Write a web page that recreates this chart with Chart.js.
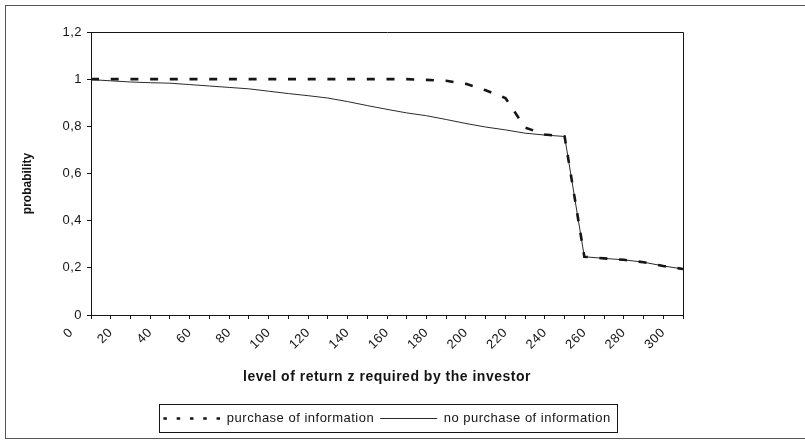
<!DOCTYPE html>
<html>
<head>
<meta charset="utf-8">
<script src="https://cdn.jsdelivr.net/npm/chart.js@4.4.1/dist/chart.umd.min.js"></script>
<style>
  html, body { margin: 0; padding: 0; background: #fff; overflow: hidden; }
  #wrap { position: relative; width: 805px; height: 440px; }
  #frame { position: absolute; left: 5px; top: 5px; width: 830px; height: 434px; border: 1px solid #555; box-sizing: border-box; pointer-events: none; }
  canvas { position: absolute; left: 0; top: 0; }
</style>
</head>
<body>
<div id="wrap">
  <canvas id="chart" width="805" height="440"></canvas>
  <div id="frame"></div>
</div>
<script>
// 投資人要求報酬 z 與達成機率
const returnLevels = [10, 20, 30, 40, 50, 60, 70, 80, 90, 100, 110, 120, 130, 140, 150, 160,
  170, 180, 190, 200, 210, 220, 230, 240, 250, 260, 270, 280, 290, 300, 310];
const purchaseInfo = [1, 1, 1, 1, 1, 1, 1, 1, 1, 1, 1, 1, 1, 1, 1, 1,
  1, 0.997, 0.993, 0.98, 0.953, 0.92, 0.795, 0.765, 0.757, 0.247, 0.24, 0.234, 0.224, 0.208, 0.195];
const noPurchaseInfo = [0.998, 0.993, 0.988, 0.985, 0.983, 0.977, 0.971, 0.965, 0.959, 0.949, 0.939,
  0.93, 0.92, 0.905, 0.888, 0.872, 0.857, 0.845, 0.829, 0.812, 0.797, 0.785, 0.771, 0.763, 0.757,
  0.247, 0.24, 0.234, 0.224, 0.208, 0.195];
const xTickLabels = ["0", "20", "40", "60", "80", "100", "120", "140", "160", "180", "200",
  "220", "240", "260", "280", "300"];
const yTickLabels = ["0", "0,2", "0,4", "0,6", "0,8", "1", "1,2"];

const ink = "#141414";
const family = "'Liberation Sans', Arial, sans-serif";
const font = { family, size: 13 };

// 掃描圖的字較寬：用 letterSpacing 模擬（縱向標題除外）
const spacing = {
  id: "spacing",
  beforeLayout(chart) { chart.ctx.letterSpacing = "0.5px"; },
  beforeDraw(chart) { chart.ctx.letterSpacing = "0.5px"; },
  afterLayout(chart) {
    const y = chart.scales.y;
    if (y && !y._patched) {
      const orig = y.drawTitle;
      y.drawTitle = function () {
        const c = this.ctx;
        c.save();
        c.letterSpacing = "0px";
        c.translate(0, 10);
        orig.apply(this, arguments);
        c.restore();
      };
      y._patched = true;
    }
    // 圖例置中於繪圖區下方
    const lg = chart.legend, a = chart.chartArea;
    lg.left = a.left; lg.right = a.right;
  },
};

// 繪圖區外框 + 圖例外框
const frames = {
  id: "frames",
  afterDraw(chart) {
    const { ctx, chartArea: a } = chart;
    ctx.save();
    ctx.strokeStyle = ink;
    ctx.lineWidth = 1;
    ctx.setLineDash([]);
    const l = Math.round(a.left) + 0.5, t = Math.round(a.top) + 0.5;
    const r = Math.round(a.right) + 0.5, b = Math.round(a.bottom) + 0.5;
    ctx.beginPath();
    ctx.moveTo(l, t); ctx.lineTo(r, t); ctx.lineTo(r, b);
    ctx.stroke();

    const hb = chart.legend.legendHitBoxes;
    if (hb && hb.length) {
      const f = hb[0], last = hb[hb.length - 1];
      const x0 = Math.round(f.left - 4) + 0.5, x1 = Math.round(last.left + last.width + 6) + 0.5;
      const y0 = Math.round(f.top - 8) + 0.5, y1 = Math.round(f.top + f.height + 7) + 0.5;
      ctx.strokeRect(x0, y0, x1 - x0, y1 - y0);
    }
    ctx.restore();
  },
};

new Chart(document.getElementById("chart"), {
  type: "line",
  data: {
    datasets: [
      {
        label: "purchase of information",
        data: returnLevels.map((x, i) => ({ x, y: purchaseInfo[i] })),
        borderColor: "#151515", borderWidth: 2.6, borderDash: [8, 11.7],
        pointRadius: 0, tension: 0, fill: false,
      },
      {
        label: "no purchase of information",
        data: returnLevels.map((x, i) => ({ x, y: noPurchaseInfo[i] })),
        borderColor: "#2a2a2a", borderWidth: 1,
        pointRadius: 0, tension: 0, fill: false,
      },
    ],
  },
  options: {
    responsive: false, animation: false, devicePixelRatio: 1,
    layout: { padding: { left: 5, top: 32, right: 122, bottom: 5 } },
    plugins: {
      tooltip: { enabled: false },
      legend: {
        position: "bottom",
        labels: {
          usePointStyle: true, pointStyleWidth: 57, padding: 6, color: ink, font,
          generateLabels: (chart) => chart.data.datasets.map((ds, i) => ({
            text: ds.label, datasetIndex: i, pointStyle: "line",
            strokeStyle: ds.borderColor, fillStyle: ds.borderColor, fontColor: ink,
            lineWidth: i === 0 ? 2.6 : 1, lineDash: i === 0 ? [3.5, 9.8] : [], hidden: false,
          })),
        },
      },
    },
    scales: {
      x: {
        type: "linear", min: 10, max: 310,
        afterBuildTicks(axis) {
          axis.ticks = [0, ...returnLevels].map((v) => ({ value: v }));
        },
        afterFit(axis) { axis.height = 91; },
        ticks: {
          autoSkip: false, minRotation: 45, maxRotation: 45, padding: 6, color: ink, font,
          callback: (v) => (xTickLabels.includes(String(v)) ? String(v) : ""),
        },
        grid: {
          drawOnChartArea: false, drawTicks: true, tickLength: 4,
          tickColor: (c) => (c.tick && c.tick.value < returnLevels[0] ? "rgba(0,0,0,0)" : ink),
        },
        border: { color: ink, width: 1 },
        title: {
          display: true, text: "level of return z required by the investor", color: ink,
          font: { family, size: 14, weight: "bold" }, padding: { top: 0, bottom: 20 },
        },
      },
      y: {
        min: 0, max: 1.2,
        afterFit(axis) { axis.width = 86; },
        ticks: {
          stepSize: 0.2, padding: 5, color: ink, font,
          callback: (v, i) => yTickLabels[i],
        },
        grid: { drawOnChartArea: false, drawTicks: true, tickLength: 4, tickColor: ink },
        border: { color: ink, width: 1 },
        title: {
          display: true, text: "probability", color: ink,
          font: { family, size: 12, weight: "bold" }, padding: { top: 15, bottom: 0 },
        },
      },
    },
  },
  plugins: [spacing, frames],
});
</script>
</body>
</html>
